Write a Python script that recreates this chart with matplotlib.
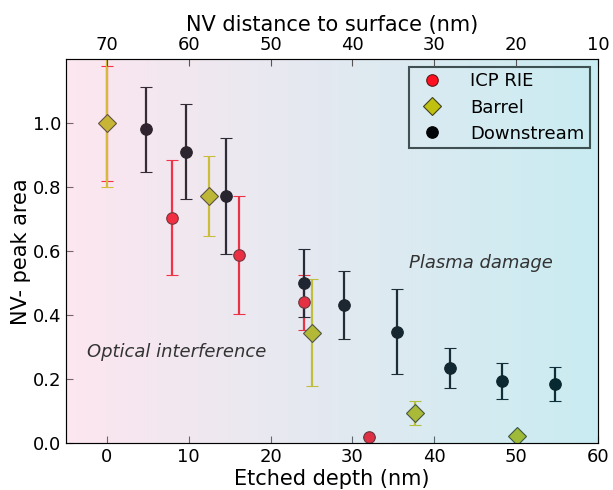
import matplotlib
matplotlib.use('Agg')
import matplotlib.pyplot as plt
import numpy as np
from matplotlib.colors import LinearSegmentedColormap

# ICP RIE data (etched depth in nm, normalized NV- peak area, error)
icp_x = [0.0, 8.0, 16.1, 24.1, 32.0]
icp_y = [1.0, 0.705, 0.589, 0.44, 0.021]
icp_err = [0.18, 0.18, 0.184, 0.087, 0.0]

# Barrel
barrel_x = [0.0, 12.5, 25.0, 37.6, 50.1]
barrel_y = [1.0, 0.774, 0.346, 0.094, 0.024]
barrel_err = [0.2, 0.125, 0.167, 0.037, 0.0]

# Downstream
down_x = [4.8, 9.6, 14.5, 24.1, 29.0, 35.4, 41.9, 48.3, 54.8]
down_y = [0.981, 0.911, 0.773, 0.5, 0.431, 0.349, 0.235, 0.195, 0.186]
down_err = [0.133, 0.149, 0.18, 0.106, 0.106, 0.132, 0.0625, 0.055, 0.053]

top_ticks = [70, 60, 50, 40, 30, 20, 10]
total_depth = 70  # NV distance to surface = total_depth - etched depth

fig = plt.figure(figsize=(6.13, 4.9), dpi=100)
ax = fig.add_axes([0.1077, 0.0953, 0.8678, 0.7837])

ax.errorbar(icp_x, icp_y, yerr=icp_err, fmt='o', color='#ff1020', ecolor='#ff1525',
            mec='#601818', mew=0.8, ms=8.3, capsize=4, elinewidth=1.6, capthick=1.6, label='ICP RIE', zorder=3)
ax.errorbar(barrel_x, barrel_y, yerr=barrel_err, fmt='D', color='#c0c010', ecolor='#d0c818',
            mec='#404020', mew=0.8, ms=9.5, capsize=4, elinewidth=1.6, capthick=1.6, label='Barrel', zorder=3)
ax.errorbar(down_x, down_y, yerr=down_err, fmt='o', color='#000408', ecolor='#080c10',
            mec='#000000', mew=0.8, ms=8.3, capsize=4, elinewidth=1.6, capthick=1.6, label='Downstream', zorder=3)

ax.set_xlim(-5, 60)
ax.set_ylim(0, 1.2)
ax.set_xticks([0, 10, 20, 30, 40, 50, 60])
ax.set_yticks([0.0, 0.2, 0.4, 0.6, 0.8, 1.0])

# gradient tint over the whole plot area (pink -> cyan)
cmap = LinearSegmentedColormap.from_list('tint', ['#f692b9', '#10acc6'])
grad = np.linspace(0, 1, 256).reshape(1, -1)
ax.imshow(grad, extent=[-5, 60, 0, 1.2], aspect='auto', cmap=cmap, alpha=0.23, zorder=5)

ax.text(-2.4, 0.285, 'Optical interference', style='italic', fontsize=13, color='#333333',
        va='center', ha='left', zorder=6)
ax.text(36.9, 0.563, 'Plasma damage', style='italic', fontsize=13, color='#333333',
        va='center', ha='left', zorder=6)

ax.tick_params(direction='in', labelsize=13, color='#555555', length=5)
for s in ax.spines.values():
    s.set_color('#666666')
ax.set_xlabel('Etched depth (nm)', fontsize=15, labelpad=2)
ax.set_ylabel('NV- peak area', fontsize=15, labelpad=1)

ax2 = ax.twiny()
ax2.set_xlim(ax.get_xlim())
ax2.set_xticks([total_depth - t for t in top_ticks])
ax2.set_xticklabels([str(t) for t in top_ticks])
ax2.tick_params(direction='in', labelsize=13, color='#555555', length=5)
ax2.set_xlabel('NV distance to surface (nm)', fontsize=15, labelpad=4)

handles, labels = ax.get_legend_handles_labels()
handles = [h[0] for h in handles]
leg = ax.legend(handles, labels, loc='upper right', fontsize=13, frameon=True, fancybox=False,
                borderpad=0.3, handlelength=2.0, handletextpad=1.1, labelspacing=0.45, borderaxespad=0,
                bbox_to_anchor=(0.985, 0.98))
leg.get_frame().set_edgecolor('#1a2a2a')
leg.get_frame().set_linewidth(1.5)
leg.get_frame().set_facecolor('none')
leg.set_zorder(7)

fig.savefig('out.png', dpi=100)
